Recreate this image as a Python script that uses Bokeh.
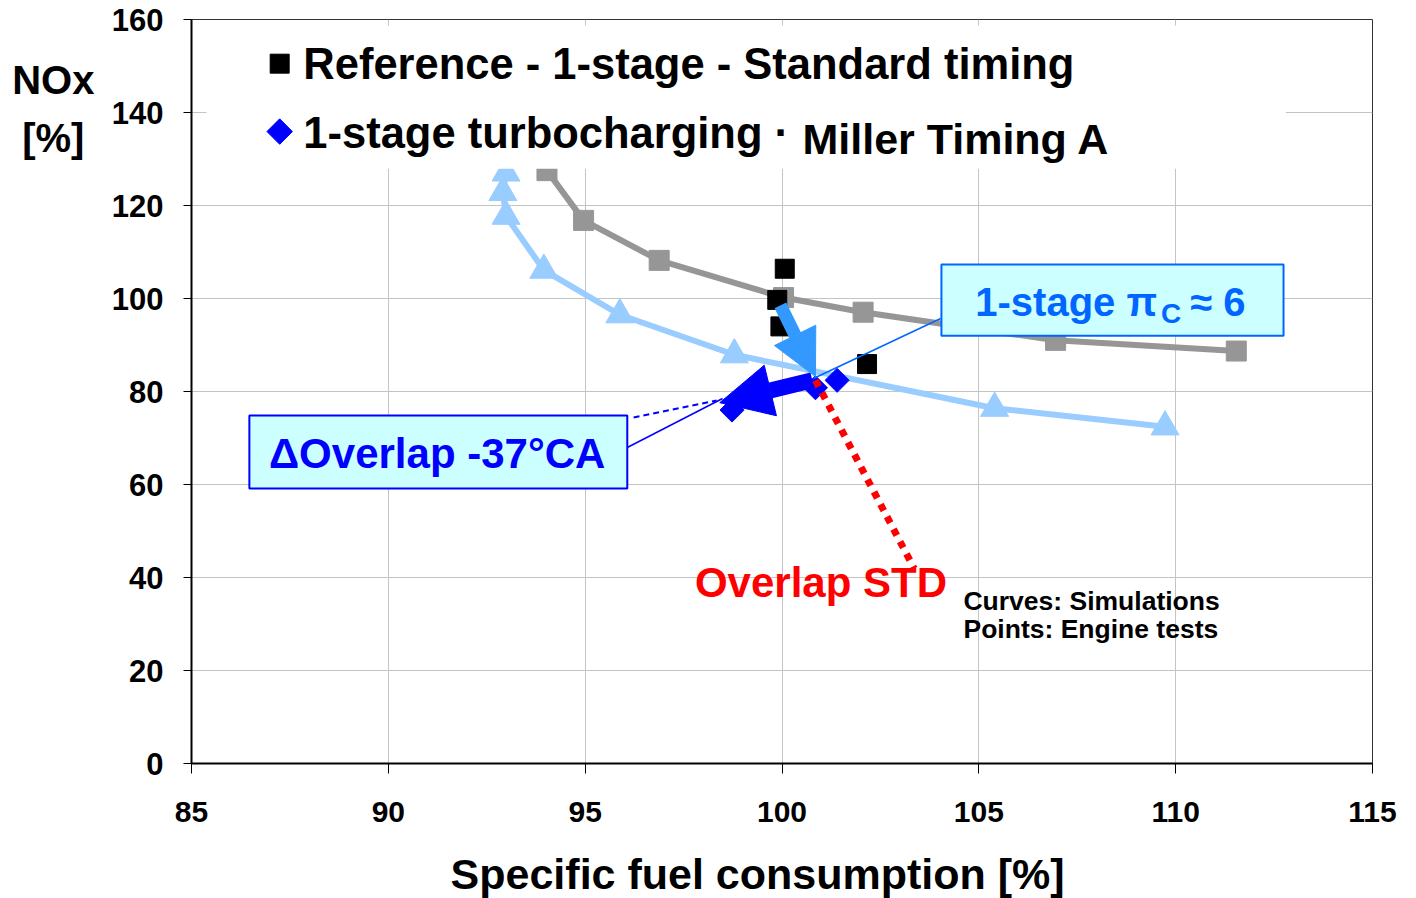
import numpy as np
from bokeh.plotting import figure
from bokeh.models import Range1d, FixedTicker, Label, BoxAnnotation, Arrow, NormalHead
from bokeh.embed import file_html
from bokeh.resources import INLINE

FONT = "Liberation Sans"

# ---------------- data ----------------
x_ticks = [85, 90, 95, 100, 105, 110, 115]
y_ticks = [0, 20, 40, 60, 80, 100, 120, 140, 160]

# simulation curves
sim_ref_x = [94.03, 94.96, 96.88, 100.04, 102.06, 106.95, 111.54]
sim_ref_y = [127.5, 116.8, 108.2, 100.2, 97.05, 91.0, 88.7]
sim_1st_x = [92.99, 92.91, 92.99, 93.95, 95.88, 98.79, 105.40, 109.73]
sim_1st_y = [127.0, 122.8, 117.7, 106.1, 96.5, 87.9, 76.4, 72.4]

# engine tests
test_ref_x = [100.07, 99.88, 99.96, 102.16]
test_ref_y = [106.4, 99.7, 94.0, 85.9]
test_miller_x = [101.40, 100.85, 99.45, 98.73]
test_miller_y = [82.4, 80.8, 78.6, 76.0]

# arrows / trends
arrow_pi_x = [99.96, 100.85]
arrow_pi_y = [98.5, 83.2]
arrow_ov_x = [100.77, 98.42]
arrow_ov_y = [82.4, 77.6]
std_x = [100.85, 103.36]
std_y = [82.4, 41.9]

# callout lines (x0, y0, x1, y1)
callout_pi = [104.03, 95.7, 100.8, 82.8]
callout_ov_solid = [96.07, 67.96, 98.49, 78.5]
callout_ov_dash = [96.23, 74.4, 98.34, 78.06]

# ---------------- figure ----------------
p = figure(width=1416, height=898,
           x_range=Range1d(85, 115), y_range=Range1d(0, 160),
           output_backend="svg", toolbar_location=None,
           min_border_left=191, min_border_right=44,
           min_border_top=19, min_border_bottom=135)

p.background_fill_color = "white"
p.border_fill_color = "white"
p.outline_line_color = "#333333"
p.outline_line_width = 1

for ax, ticks, fs, tout, so in ((p.xaxis, x_ticks, "30px", 10, 28), (p.yaxis, y_ticks, "31px", 8, 20)):
    ax.ticker = FixedTicker(ticks=ticks)
    ax.major_label_text_font = FONT
    ax.major_label_text_font_style = "bold"
    ax.major_label_text_font_size = fs
    ax.major_label_text_color = "black"
    ax.axis_line_color = "black"
    ax.axis_line_width = 2
    ax.major_tick_line_color = "black"
    ax.major_tick_line_width = 1
    ax.major_tick_out = tout
    ax.major_tick_in = 0
    ax.minor_tick_line_color = None
    ax.major_label_standoff = so

p.xgrid.ticker = FixedTicker(ticks=x_ticks)
p.ygrid.ticker = FixedTicker(ticks=y_ticks)
p.grid.grid_line_color = "#C4C4C4"
p.grid.grid_line_width = 1

# curves
p.line(sim_ref_x, sim_ref_y, line_color="#969696", line_width=6)
p.scatter(sim_ref_x, sim_ref_y, marker="square", size=20,
          fill_color="#969696", line_color="#969696")
p.line(sim_1st_x, sim_1st_y, line_color="#99CCFF", line_width=6)
p.scatter(sim_1st_x, sim_1st_y, marker="triangle", size=28,
          fill_color="#99CCFF", line_color="#99CCFF")

# engine tests
p.scatter(test_ref_x, test_ref_y, marker="square", size=19,
          fill_color="black", line_color="black")
p.scatter(test_miller_x, test_miller_y, marker="square", angle=np.pi / 4, size=17,
          fill_color="#0000FF", line_color="#0000FF")

# legend background (covers grid lines)
p.add_layout(BoxAnnotation(left=85.38, right=112.8, bottom=127.9, top=158.7,
                           fill_color="white", fill_alpha=1.0, line_alpha=0))

# annotation boxes
p.add_layout(BoxAnnotation(left=104.05, right=112.74, bottom=92.0, top=107.3,
                           fill_color="#CCFFFF", fill_alpha=1.0,
                           line_color="#0066FF", line_width=2, line_alpha=1.0))
p.add_layout(BoxAnnotation(left=86.47, right=96.07, bottom=59.14, top=74.84,
                           fill_color="#CCFFFF", fill_alpha=1.0,
                           line_color="#0000FF", line_width=2, line_alpha=1.0))

# arrows
p.add_layout(Arrow(end=NormalHead(size=52, fill_color="#0000FF", line_color="#0000FF", line_width=1),
                   x_start=arrow_ov_x[0], y_start=arrow_ov_y[0],
                   x_end=arrow_ov_x[1], y_end=arrow_ov_y[1],
                   line_color="#0000FF", line_width=16))
p.add_layout(Arrow(end=NormalHead(size=46, fill_color="#3399FF", line_color="#3399FF", line_width=1),
                   x_start=arrow_pi_x[0], y_start=arrow_pi_y[0],
                   x_end=arrow_pi_x[1], y_end=arrow_pi_y[1],
                   line_color="#3399FF", line_width=13))

# callout lines
r = p.segment(x0=[callout_pi[0]], y0=[callout_pi[1]], x1=[callout_pi[2]], y1=[callout_pi[3]],
              line_color="#0066FF", line_width=1.5)
r.level = "overlay"
r = p.segment(x0=[callout_ov_solid[0]], y0=[callout_ov_solid[1]],
              x1=[callout_ov_solid[2]], y1=[callout_ov_solid[3]],
              line_color="#0000FF", line_width=1.5)
r.level = "overlay"
r = p.segment(x0=[callout_ov_dash[0]], y0=[callout_ov_dash[1]],
              x1=[callout_ov_dash[2]], y1=[callout_ov_dash[3]],
              line_color="#0000FF", line_width=2, line_dash="6 4")
r.level = "overlay"

# red dotted "Overlap STD" trend
r = p.segment(x0=[std_x[0]], y0=[std_y[0]], x1=[std_x[1]], y1=[std_y[1]],
              line_color="#FF0000", line_width=7, line_dash="7 7", line_cap="butt")
r.level = "overlay"

# legend markers
r = p.scatter([87.24], [150.5], marker="square", size=19, fill_color="black", line_color="black")
r.level = "overlay"
r = p.scatter([87.24], [135.9], marker="square", angle=np.pi / 4, size=18,
              fill_color="#0000FF", line_color="#0000FF")
r.level = "overlay"


def lab(x, y, text, size, color="black", align="left", baseline="middle", place=None, lh=1.2):
    l = Label(x=x, y=y, text=text, text_font=FONT, text_font_style="bold",
              text_font_size=size, text_color=color, text_align=align,
              text_baseline=baseline, text_line_height=lh, level="overlay")
    if place is None:
        p.add_layout(l)
    else:
        p.add_layout(l, place)
    return l


lab(87.84, 150.5, "Reference - 1-stage - Standard timing", "43.5px")
lab(87.84, 135.5, "1-stage turbocharging \u00b7", "43.5px")
lab(100.52, 134.4, "Miller Timing A", "43px")

lab(104.91, 99.35, "1-stage \u03c0", "40px", color="#0066FF")
lab(109.63, 96.8, "C", "28px", color="#0066FF")
lab(110.37, 99.35, "\u2248 6", "40px", color="#0066FF")

lab(91.24, 66.7, "\u0394Overlap -37\u00b0CA", "42px", color="#0000FF", align="center")
lab(100.99, 38.9, "Overlap STD", "42px", color="#FF0000", align="center")
lab(104.61, 35.05, "Curves: Simulations", "26.5px")
lab(104.61, 29.0, "Points: Engine tests", "26.5px")

# axis titles (placed in side panels so they are not clipped to the frame)
lab(81.49, 140.8, "NOx\n[%]", "40px", align="center", place="left", lh=1.33)
lab(99.38, -23.66, "Specific fuel consumption [%]", "43px", align="center", place="below")

open("out.html", "w").write(file_html(p, INLINE))
